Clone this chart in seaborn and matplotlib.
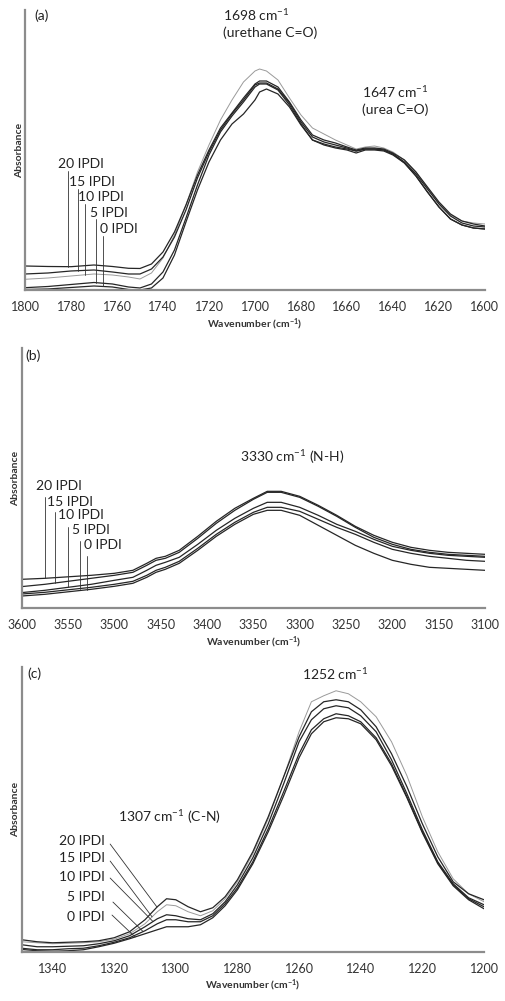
"""FTIR spectra of PU films with 0-20 IPDI, three wavenumber windows."""

import numpy as np
import pandas as pd
import matplotlib
matplotlib.use("Agg")
import matplotlib.pyplot as plt
from matplotlib.ticker import MultipleLocator
import seaborn as sns

samples = ["0 IPDI", "5 IPDI", "10 IPDI", "15 IPDI", "20 IPDI"]

# panel (a): carbonyl region
wn_a = [1800, 1790, 1780, 1770, 1762, 1755, 1750, 1745, 1740, 1735, 1730, 1725,
        1720, 1715, 1710, 1705, 1700, 1698, 1695, 1690, 1685, 1680, 1675, 1670,
        1665, 1660, 1656, 1652, 1648, 1644, 1640, 1635, 1630, 1625, 1620, 1615,
        1610, 1605, 1600]
a_0 = [0.5, 1, 2.5, 4, 3, 0.5, 0, 2, 12, 35, 68, 100, 128, 150, 166, 176, 190, 198,
       201, 196, 183, 165, 150, 145, 142, 140, 137, 140, 140, 139, 135, 127, 114, 98,
       83, 71, 65, 62, 61]
a_5 = [2.3, 3.5, 5.5, 7.5, 6, 3, 2, 6, 18, 40, 72, 105, 135, 158, 174, 188, 203, 206,
       206, 200, 185, 166, 150, 146, 143, 141, 139, 141, 141, 140, 136, 127, 114, 98,
       83, 71, 65, 62, 61]
a_10 = [10.7, 12, 14, 16, 15, 13, 11, 17, 32, 55, 85, 118, 145, 170, 190, 208, 219,
        221, 219, 210, 192, 175, 162, 156, 150, 145, 141, 143, 144, 142, 138, 130, 118,
        102, 87, 75, 69, 67, 66]
a_15 = [16, 17, 19, 20, 18, 16, 16, 21, 33, 53, 80, 112, 138, 160, 176, 190, 205, 207,
        207, 201, 187, 168, 153, 148, 145, 142, 139, 141, 141, 140, 136, 128, 116, 101,
        86, 74, 67, 64, 63]
a_20 = [24, 23.5, 23.3, 25, 23.5, 21.7, 21.5, 26, 38, 58, 85, 115, 140, 162, 177, 192,
        206, 209, 209, 203, 188, 170, 155, 150, 147, 143, 140, 142, 142, 141, 137, 130,
        118, 103, 88, 76, 69, 66, 64]

# panel (b): N-H region
wn_b = [3600, 3575, 3550, 3525, 3500, 3480, 3465, 3455, 3445, 3430, 3410, 3390, 3370,
        3350, 3335, 3320, 3300, 3280, 3260, 3240, 3220, 3200, 3180, 3160, 3140, 3120,
        3100]
b_0 = [12.3, 14, 16.5, 19, 22, 25, 31, 36, 39, 45, 58, 72, 84, 94, 98, 98, 93, 83, 73,
       63, 55, 48, 44, 41, 40, 39, 38]
b_5 = [14.3, 16, 18.5, 21, 24, 27, 33, 38, 41, 47, 60, 74, 86, 96, 101, 101, 97, 89,
       81, 74, 66, 59, 55, 52, 50, 48, 47]
b_10 = [15.7, 18, 21, 24, 28, 31, 38, 43, 46, 51, 64, 78, 90, 100, 106, 106, 101, 93,
        84, 77, 69, 62, 58, 55, 53, 52, 51]
b_15 = [21.7, 24, 27, 30, 33, 36, 43, 48, 50, 56, 70, 85, 98, 109, 116, 116, 111, 102,
        92, 81, 71, 64, 59, 56, 54, 53, 52]
b_20 = [29, 30, 31.5, 33, 35, 38, 45, 50, 52, 58, 72, 87, 100, 110, 117, 117, 112, 103,
        93, 82, 73, 66, 61, 58, 56, 55, 54]

# panel (c): C-N / C-O-C region
wn_c = [1350, 1345, 1340, 1335, 1330, 1325, 1320, 1315, 1310, 1306, 1303, 1300, 1296,
        1292, 1288, 1284, 1280, 1275, 1270, 1265, 1260, 1256, 1252, 1248, 1244, 1240,
        1235, 1230, 1225, 1220, 1215, 1210, 1205, 1200]
c_0 = [2.3, 1, 0.5, 1, 2, 5, 8.5, 13, 18, 22, 25, 25, 25, 27, 34, 46, 62, 88, 120, 156,
       194, 218, 230, 234, 233, 228, 212, 186, 154, 119, 88, 66, 52, 43]
c_5 = [3.5, 2, 2, 3, 3.5, 6, 9.5, 14, 21, 28, 32, 32, 30, 30, 36, 48, 64, 90, 123, 160,
       198, 222, 233, 238, 236, 230, 214, 188, 155, 120, 89, 67, 53, 45]
c_10 = [7, 5, 5, 5.5, 6, 8, 11, 16, 25, 33, 37, 36, 33, 32, 38, 50, 67, 94, 128, 168,
        210, 232, 243, 246, 244, 236, 220, 192, 158, 122, 90, 68, 54, 47]
c_15 = [10, 9, 8, 8.5, 9, 10, 12.5, 18, 28, 40, 47, 46, 40, 36, 41, 53, 70, 98, 133,
        175, 220, 250, 256, 261, 258, 250, 235, 210, 176, 135, 100, 73, 58, 50]
c_20 = [12, 10, 9, 9.5, 10, 11, 14, 20, 32, 45, 53, 52, 45, 40, 44, 55, 72, 100, 135,
        175, 215, 240, 250, 252, 250, 242, 225, 198, 165, 128, 95, 70, 58, 52]

sns.set_style("white")
plt.rcParams["font.family"] = ["Lato", "DejaVu Sans"]
plt.rcParams["mathtext.default"] = "regular"

AX_GREY = "#8c8c8c"
CM = "cm$^{-1}$"

fig = plt.figure(figsize=(5.06, 10.01), dpi=100)
ax_a = fig.add_axes([0.0494, 0.7103, 0.909, 0.2797])
ax_b = fig.add_axes([0.0429, 0.3923, 0.9156, 0.2597])
ax_c = fig.add_axes([0.0429, 0.0492, 0.9136, 0.2847])


def draw_panel(ax, wn, curves, grey, xlim, ylim, major, minor):
    for name, vals in zip(samples, curves):
        if name == grey:
            sns.lineplot(x=wn, y=vals, ax=ax, color="#9a9a9a", lw=0.7)
        else:
            sns.lineplot(x=wn, y=vals, ax=ax, color="#262626", lw=0.9)
    ax.set_xlim(*xlim)
    ax.set_ylim(*ylim)
    ax.xaxis.set_major_locator(MultipleLocator(major))
    ax.xaxis.set_minor_locator(MultipleLocator(minor))
    ax.set_yticks([])
    sns.despine(ax=ax)
    for s in ("left", "bottom"):
        ax.spines[s].set_color(AX_GREY)
        ax.spines[s].set_linewidth(1.6)
    ax.tick_params(axis="x", which="major", direction="in", length=3, width=1,
                   color=AX_GREY, labelsize=9, pad=8, labelcolor="#333333")
    ax.tick_params(axis="x", which="minor", direction="in", length=2.2, width=1,
                   color=AX_GREY)
    ax.set_xlabel("Wavenumber (" + CM + ")", fontsize=7.5, fontweight="bold",
                  labelpad=2, color="#333333")
    ax.set_ylabel("Absorbance", fontsize=7.5, fontweight="bold", labelpad=1,
                  color="#333333")
    ax.grid(False)


curves_a = [a_0, a_5, a_10, a_15, a_20]
curves_b = [b_0, b_5, b_10, b_15, b_20]
curves_c = [c_0, c_5, c_10, c_15, c_20]

draw_panel(ax_a, wn_a, curves_a, "10 IPDI", (1800, 1600), (0, 280), 20, 20 / 6)
draw_panel(ax_b, wn_b, curves_b, None, (3600, 3100), (0, 260), 50, 50 / 12)
draw_panel(ax_c, wn_c, curves_c, "15 IPDI", (1350, 1200), (0, 285), 20, 4)

txt = dict(fontsize=10, color="#222222")

# (a) annotations
ax_a.text(1796, 274, "(a)", va="center", **txt)
ax_a.text(1713.9, 275, "1698 " + CM, va="center", **txt)
ax_a.text(1713.9, 257, "(urethane C=O)", va="center", **txt)
ax_a.text(1653.5, 198, "1647 " + CM, va="center", **txt)
ax_a.text(1653.5, 180, "(urea C=O)", va="center", **txt)
lab_a = {"20 IPDI": (1785.7, 126, 1781.3, 119),
         "15 IPDI": (1780.9, 108, 1777.0, 101),
         "10 IPDI": (1777.0, 93, 1774.0, 86),
         "5 IPDI": (1771.7, 77, 1769.0, 71),
         "0 IPDI": (1767.4, 61, 1766.0, 54)}
for name, vals in zip(samples, curves_a):
    tx, ty, px, py = lab_a[name]
    ax_a.text(tx, ty, name, va="center", **txt)
    yc = np.interp(-px, -np.array(wn_a), vals)
    ax_a.plot([px, px], [py, yc], color="#333333", lw=0.6)

# (b) annotations
ax_b.text(3596, 253, "(b)", va="center", **txt)
ax_b.text(3364.4, 151.6, "3330 " + CM + " (N-H)", va="center", **txt)
lab_b = {"20 IPDI": (3584.6, 122, 3574.9, 111),
         "15 IPDI": (3572.4, 106.6, 3564.0, 96),
         "10 IPDI": (3560.5, 93, 3550.4, 81),
         "5 IPDI": (3545.7, 78, 3537.0, 67),
         "0 IPDI": (3532.8, 63, 3529.9, 52)}
for name, vals in zip(samples, curves_b):
    tx, ty, px, py = lab_b[name]
    ax_b.text(tx, ty, name, va="center", **txt)
    yc = np.interp(-px, -np.array(wn_b), vals)
    ax_b.plot([px, px], [py, yc], color="#333333", lw=0.6)

# (c) annotations
ax_c.text(1348, 277.7, "(c)", va="center", **txt)
ax_c.text(1259, 277.7, "1252 " + CM, va="center", **txt)
ax_c.text(1318.7, 134.7, "1307 " + CM + " (C-N)", va="center", **txt)
lab_c = {"20 IPDI": (1323, 111, 1321.3, 107.7, 1306.1),
         "15 IPDI": (1323, 93.7, 1321.3, 90.7, 1307.7),
         "10 IPDI": (1323, 74.7, 1321.3, 73.7, 1307.4),
         "5 IPDI": (1323, 54.7, 1320.4, 49.7, 1310.6),
         "0 IPDI": (1323, 34.7, 1320.7, 36.7, 1313.2)}
for name, vals in zip(samples, curves_c):
    tx, ty, sx, sy, ex = lab_c[name]
    ax_c.text(tx, ty, name, va="center", ha="right", **txt)
    yc = np.interp(-ex, -np.array(wn_c), vals)
    ax_c.plot([sx, ex], [sy, yc], color="#333333", lw=0.6)

fig.savefig("out.png", dpi=100)
